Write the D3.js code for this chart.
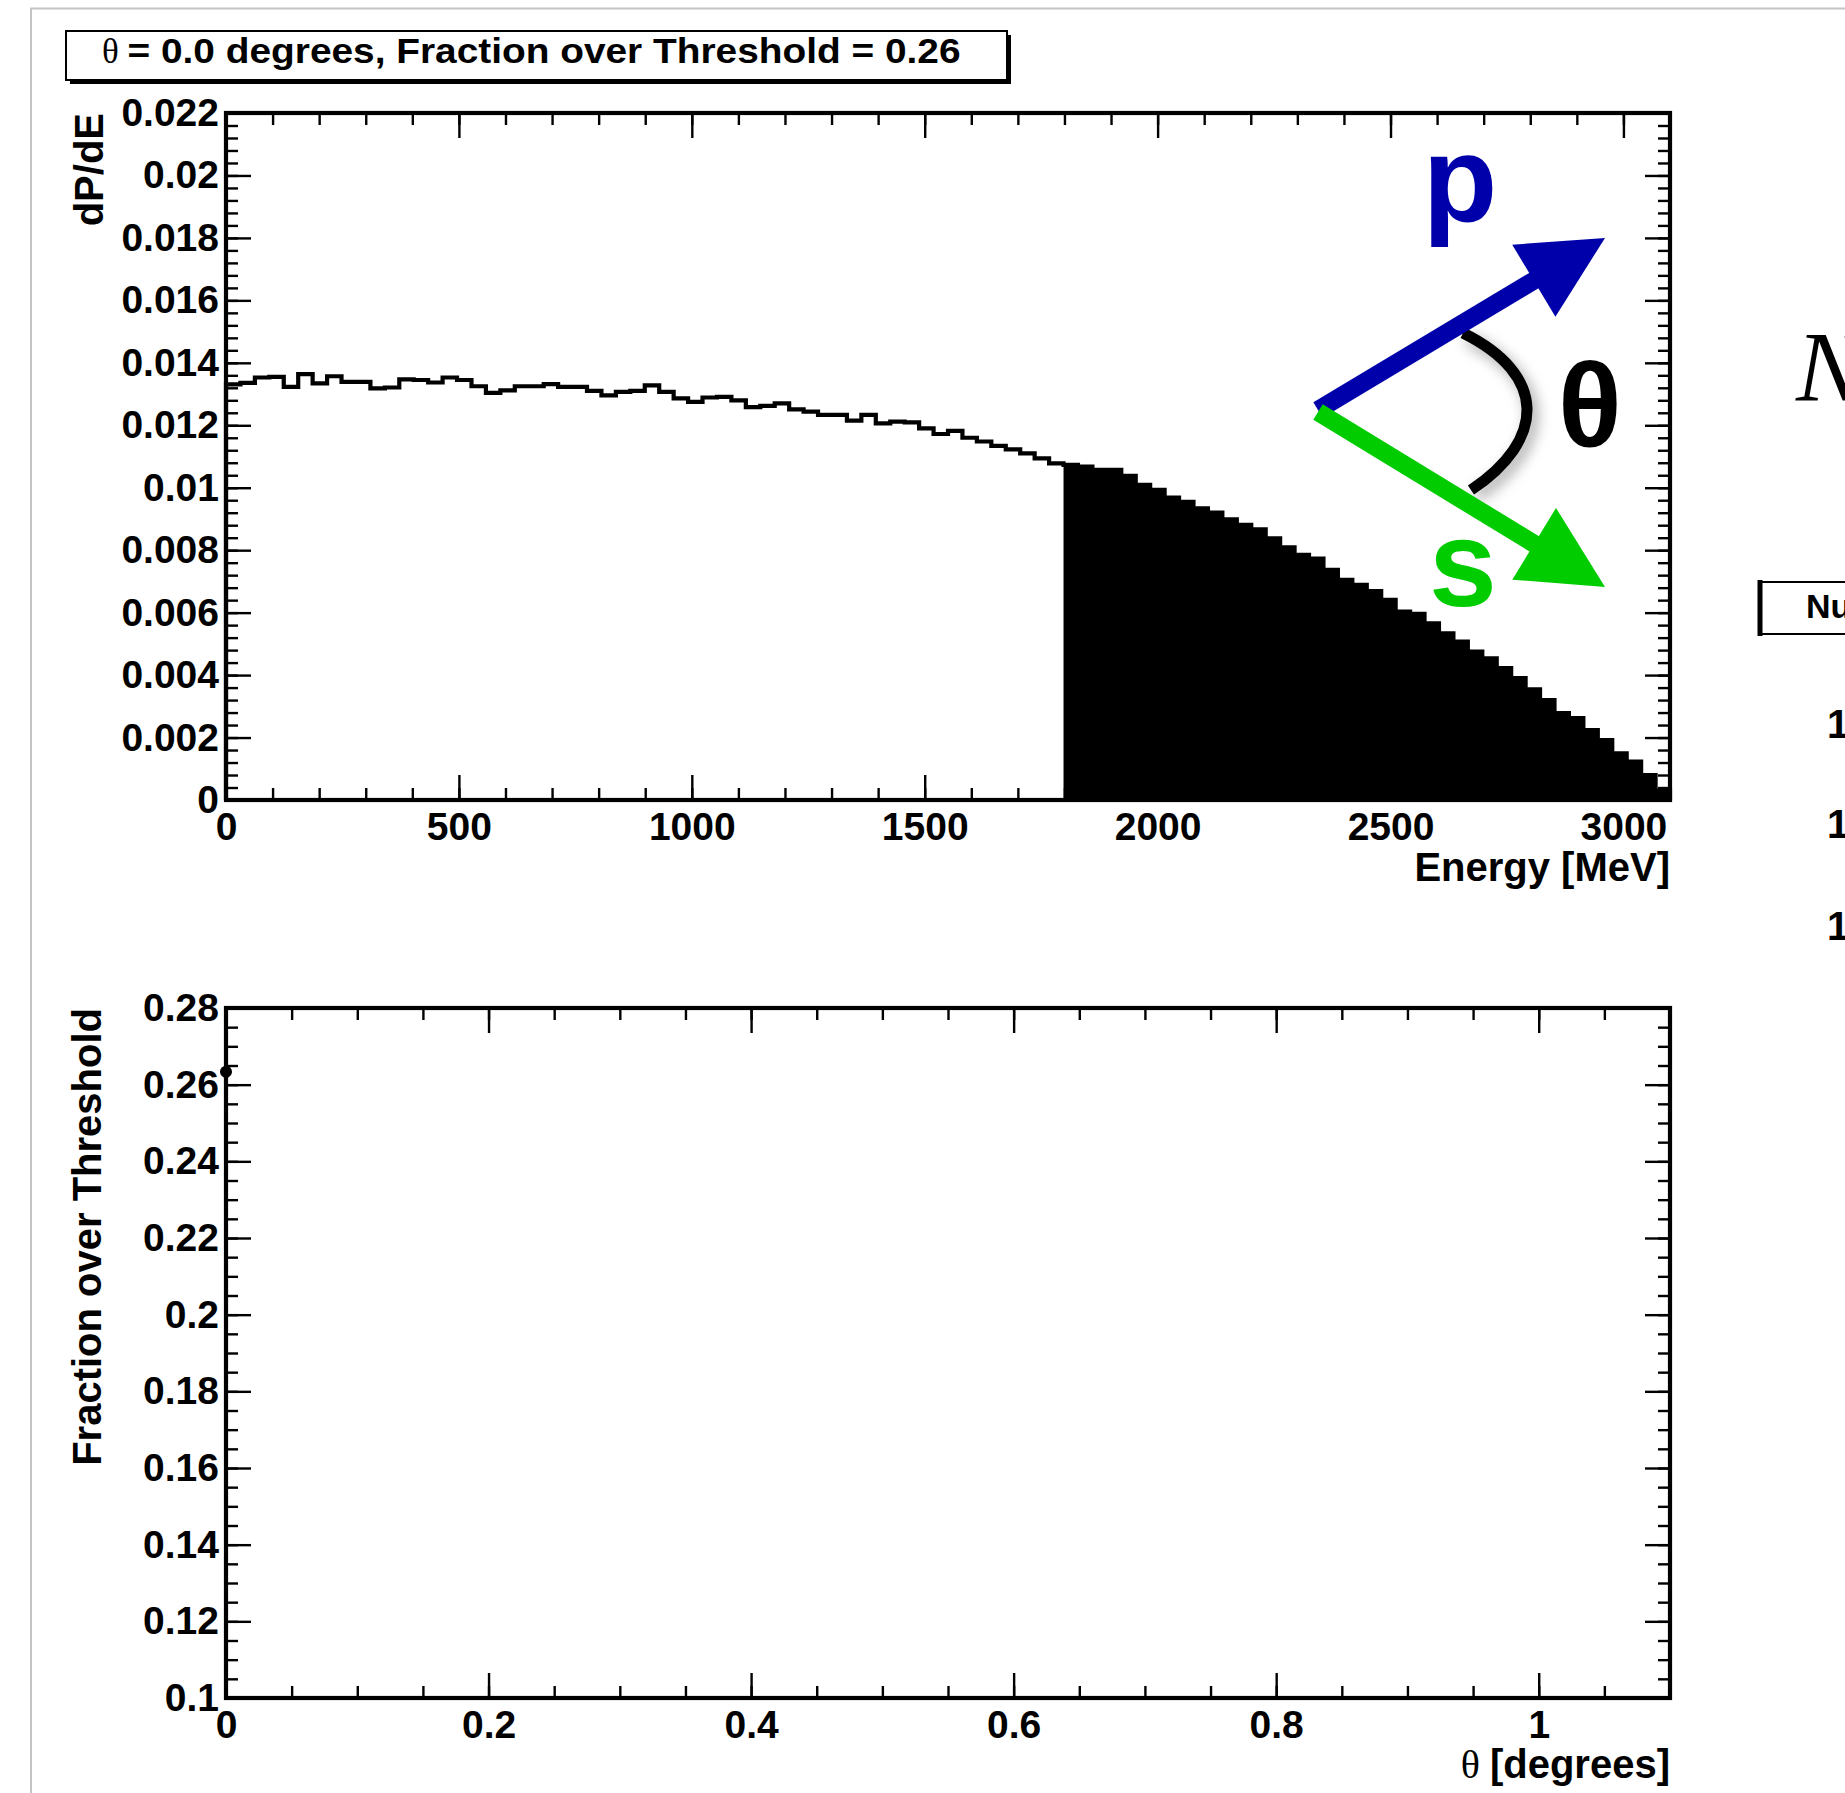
<!DOCTYPE html>
<html><head><meta charset="utf-8">
<script src="https://cdn.jsdelivr.net/npm/d3@7"></script>
<style>
html,body{margin:0;padding:0;background:#fff;overflow:hidden;}
svg{display:block;}
</style></head><body>
<svg id="c" width="1845" height="1793"></svg>
<script>
// ---------------- DATA ----------------
const binWidthMeV = 31;
const energyMax = 3100;
const thresholdMeV = 1798;
const dPdE = [
 0.01331,0.01336,0.01353,0.01355,0.01323,0.01364,0.01334,0.01357,0.01339,0.01339,
 0.01318,0.01321,0.01347,0.01345,0.01337,0.01353,0.01345,0.01325,0.01304,0.01312,
 0.01325,0.01325,0.01332,0.01323,0.01323,0.01310,0.01296,0.01307,0.01310,0.01328,
 0.01307,0.01286,0.01275,0.01289,0.01291,0.01280,0.01258,0.01262,0.01270,0.01251,
 0.01244,0.01233,0.01233,0.01215,0.01233,0.01206,0.01212,0.01209,0.01190,0.01172,
 0.01182,0.01160,0.01148,0.01134,0.01123,0.01110,0.01094,0.01078,0.01073,0.01068,
 0.01057,0.01057,0.01038,0.01009,0.00993,0.00968,0.00955,0.00934,0.00920,0.00899,
 0.00881,0.00867,0.00838,0.00809,0.00785,0.00773,0.00737,0.00705,0.00689,0.00669,
 0.00641,0.00603,0.00596,0.00566,0.00534,0.00507,0.00475,0.00454,0.00422,0.00390,
 0.00354,0.00320,0.00278,0.00262,0.00224,0.00192,0.00149,0.00123,0.00080,0.00030
];
const energyTicks = [0,500,1000,1500,2000,2500,3000];
const energyTickLabels = ["0","500","1000","1500","2000","2500","3000"];
const dPdETicks = [0,0.002,0.004,0.006,0.008,0.01,0.012,0.014,0.016,0.018,0.02,0.022];
const dPdETickLabels = ["0","0.002","0.004","0.006","0.008","0.01","0.012","0.014","0.016","0.018","0.02","0.022"];

const thetaValues = [0.0];
const fractionValues = [0.2634];
const thetaTicks = [0,0.2,0.4,0.6,0.8,1];
const thetaTickLabels = ["0","0.2","0.4","0.6","0.8","1"];
const fractionTicks = [0.1,0.12,0.14,0.16,0.18,0.2,0.22,0.24,0.26,0.28];
const fractionTickLabels = ["0.1","0.12","0.14","0.16","0.18","0.2","0.22","0.24","0.26","0.28"];

const titleText = "= 0.0 degrees, Fraction over Threshold = 0.26";

// ---------------- LAYOUT ----------------
const FONT = "'Liberation Sans', Arial, Helvetica, sans-serif";
const SERIF = "'Liberation Serif', 'Times New Roman', serif";
const svg = d3.select("#c");
svg.append("rect").attr("width",1845).attr("height",1793).attr("fill","#fff");

// outer pad border (light gray)
svg.append("path").attr("d","M31,1793 V8.5 H1845").attr("fill","none")
  .attr("stroke","#c4c4c4").attr("stroke-width",2);

const topF = {left:226, right:1670, top:113, bottom:800};
const botF = {left:226, right:1670, top:1008, bottom:1698};

const xE = d3.scaleLinear().domain([0, energyMax]).range([topF.left, topF.right]);
const yP = d3.scaleLinear().domain([0, 0.022]).range([topF.bottom, topF.top]);
const xT = d3.scaleLinear().domain([0, 1.1]).range([botF.left, botF.right]);
const yF = d3.scaleLinear().domain([0.1, 0.28]).range([botF.bottom, botF.top]);

function styleAxis(g){
  g.select(".domain").remove();
  g.attr("font-family", FONT).attr("font-size", 39).attr("font-weight","bold");
  g.selectAll("line").attr("stroke","#000").attr("stroke-width",2.4);
  g.selectAll("text").attr("fill","#000");
}
function frameAxes(f, xs, ys, xMaj, xLab, xMin, yMaj, yLab, yMin){
  const MAJ = 25, MIN = 12;
  svg.append("g").attr("transform",`translate(0,${f.bottom})`)
    .call(d3.axisBottom(xs).tickValues(xMin).tickSize(-MIN).tickFormat("")).call(styleAxis);
  svg.append("g").attr("transform",`translate(0,${f.bottom})`)
    .call(d3.axisBottom(xs).tickValues(xMaj).tickSize(-MAJ).tickPadding(12)
      .tickFormat((d,i)=>xLab[i])).call(styleAxis);
  svg.append("g").attr("transform",`translate(0,${f.top})`)
    .call(d3.axisTop(xs).tickValues(xMin).tickSize(-MIN).tickFormat("")).call(styleAxis);
  svg.append("g").attr("transform",`translate(0,${f.top})`)
    .call(d3.axisTop(xs).tickValues(xMaj).tickSize(-MAJ).tickFormat("")).call(styleAxis);
  svg.append("g").attr("transform",`translate(${f.left},0)`)
    .call(d3.axisLeft(ys).tickValues(yMin).tickSize(-MIN).tickFormat("")).call(styleAxis);
  svg.append("g").attr("transform",`translate(${f.left},0)`)
    .call(d3.axisLeft(ys).tickValues(yMaj).tickSize(-MAJ).tickPadding(7)
      .tickFormat((d,i)=>yLab[i])).call(styleAxis);
  svg.append("g").attr("transform",`translate(${f.right},0)`)
    .call(d3.axisRight(ys).tickValues(yMin).tickSize(-MIN).tickFormat("")).call(styleAxis);
  svg.append("g").attr("transform",`translate(${f.right},0)`)
    .call(d3.axisRight(ys).tickValues(yMaj).tickSize(-MAJ).tickFormat("")).call(styleAxis);
  svg.append("rect").attr("x",f.left).attr("y",f.top)
    .attr("width",f.right-f.left).attr("height",f.bottom-f.top)
    .attr("fill","none").attr("stroke","#000").attr("stroke-width",4.2);
}

// ---------------- TOP PANEL: histogram ----------------
const edges = dPdE.map((v,i)=>i*binWidthMeV);
let outline = `M${xE(0)},${yP(0)}`;
dPdE.forEach((v,i)=>{
  outline += ` V${yP(v)} H${xE(edges[i]+binWidthMeV)}`;
});
outline += ` V${yP(0)}`;

const firstFill = Math.round(thresholdMeV/binWidthMeV);
let area = `M${xE(edges[firstFill])},${yP(0)}`;
for (let i=firstFill;i<dPdE.length;i++){
  area += ` V${yP(dPdE[i])} H${xE(edges[i]+binWidthMeV)}`;
}
area += ` V${yP(0)} Z`;
svg.append("path").attr("d",area).attr("fill","#000");
svg.append("path").attr("d",outline).attr("fill","none").attr("stroke","#000")
  .attr("stroke-width",4.2).attr("stroke-linejoin","miter");

// ---------------- inset diagram (annotation) ----------------
const defs = svg.append("defs");
const flt = defs.append("filter").attr("id","sh").attr("x","-50%").attr("y","-50%")
  .attr("width","200%").attr("height","200%");
flt.append("feDropShadow").attr("dx",5).attr("dy",6).attr("stdDeviation",7)
  .attr("flood-color","#000").attr("flood-opacity",0.35);

const dg = {o:[1318,410], pTip:[1605,238], sTip:[1605,587], shaft:18, headLen:83, headHalf:42};
const blue = "#0000aa", green = "#00cc00";
svg.append("path").attr("d","M1463,333 C1548,375 1546,440 1471,490")
  .attr("fill","none").attr("stroke","#000").attr("stroke-width",11).attr("filter","url(#sh)");
function arrow(o, t, col){
  const dx=t[0]-o[0], dy=t[1]-o[1], L=Math.hypot(dx,dy), ux=dx/L, uy=dy/L, nx=-uy, ny=ux;
  const bx=t[0]-ux*dg.headLen, by=t[1]-uy*dg.headLen;
  svg.append("line").attr("x1",o[0]).attr("y1",o[1]).attr("x2",bx+ux*5).attr("y2",by+uy*5)
    .attr("stroke",col).attr("stroke-width",dg.shaft);
  svg.append("path").attr("d",`M${t[0]},${t[1]} L${bx+nx*dg.headHalf},${by+ny*dg.headHalf} L${bx-nx*dg.headHalf},${by-ny*dg.headHalf} Z`)
    .attr("fill",col);
}
arrow(dg.o, dg.pTip, blue);
arrow([dg.o[0],dg.o[1]+2], dg.sTip, green);
svg.append("text").attr("x",1460).attr("y",222).attr("text-anchor","middle")
  .attr("font-family",FONT).attr("font-weight","bold").attr("font-size",122).attr("fill",blue).text("p");
svg.append("text").attr("x",1463).attr("y",606).attr("text-anchor","middle")
  .attr("font-family",FONT).attr("font-weight","bold").attr("font-size",122).attr("fill",green).text("s");
svg.append("text").attr("x",1590).attr("y",446).attr("text-anchor","middle")
  .attr("font-family",FONT).attr("font-weight","bold").attr("font-size",118).attr("fill","#000").text("θ");

frameAxes(topF, xE, yP, energyTicks, energyTickLabels, d3.range(0,energyMax+1,100),
  dPdETicks, dPdETickLabels, d3.range(0,0.02201,0.0004));

svg.append("text").attr("x",topF.right).attr("y",881).attr("text-anchor","end")
  .attr("font-family",FONT).attr("font-weight","bold").attr("font-size",40).text("Energy [MeV]");
svg.append("text").attr("transform",`translate(103,${topF.top}) rotate(-90)`).attr("text-anchor","end")
  .attr("font-family",FONT).attr("font-weight","bold").attr("font-size",40).text("dP/dE");

// title box
svg.append("rect").attr("x",70).attr("y",35).attr("width",941).attr("height",49).attr("fill","#000");
svg.append("rect").attr("x",66).attr("y",31).attr("width",941).attr("height",49)
  .attr("fill","#fff").attr("stroke","#000").attr("stroke-width",2);
const tt = svg.append("text").attr("x",102).attr("y",63)
  .attr("font-family",FONT).attr("font-weight","bold").attr("font-size",35);
tt.append("tspan").attr("font-family",SERIF).attr("font-weight","normal").text("θ ");
tt.append("tspan").attr("textLength",833).attr("lengthAdjust","spacingAndGlyphs").text(titleText);

// ---------------- BOTTOM PANEL ----------------
frameAxes(botF, xT, yF, thetaTicks, thetaTickLabels, d3.range(0,1.1001,0.05),
  fractionTicks, fractionTickLabels, d3.range(0.1,0.28001,0.005));

svg.selectAll("circle.pt").data(thetaValues).enter().append("circle").attr("class","pt")
  .attr("cx",d=>xT(d)).attr("cy",(d,i)=>yF(fractionValues[i])).attr("r",6).attr("fill","#000");
svg.selectAll("path.err").data(thetaValues).enter().append("path").attr("class","err")
  .attr("d",(d,i)=>`M${xT(d)-6},${yF(fractionValues[i])} l6,9 l6,-9 Z`).attr("fill","#000");

const xt = svg.append("text").attr("x",botF.right).attr("y",1778).attr("text-anchor","end")
  .attr("font-family",FONT).attr("font-weight","bold").attr("font-size",40);
xt.append("tspan").attr("font-family",SERIF).attr("font-weight","normal").text("θ ");
xt.append("tspan").text("[degrees]");
svg.append("text").attr("transform",`translate(101,${botF.top}) rotate(-90)`).attr("text-anchor","end")
  .attr("font-family",FONT).attr("font-weight","bold").attr("font-size",40).text("Fraction over Threshold");

// ---------------- right-hand cut-off content (cut by the page edge, as in the original) ----------------
svg.append("text").attr("x",1796).attr("y",400).attr("font-family",SERIF).attr("font-style","italic")
  .attr("font-size",100).attr("fill","#000").text("N");
svg.append("rect").attr("x",1761).attr("y",582).attr("width",200).attr("height",52)
  .attr("fill","#fff").attr("stroke","#000").attr("stroke-width",2);
svg.append("line").attr("x1",1760).attr("y1",580).attr("x2",1760).attr("y2",636)
  .attr("stroke","#000").attr("stroke-width",5);
svg.append("text").attr("x",1806).attr("y",618).attr("font-family",FONT).attr("font-weight","bold")
  .attr("font-size",34).text("Number");
[738,838,940].forEach(y=>{
  svg.append("text").attr("x",1827).attr("y",y).attr("font-family",FONT).attr("font-weight","bold")
    .attr("font-size",40).text("1");
});
</script>
</body></html>
